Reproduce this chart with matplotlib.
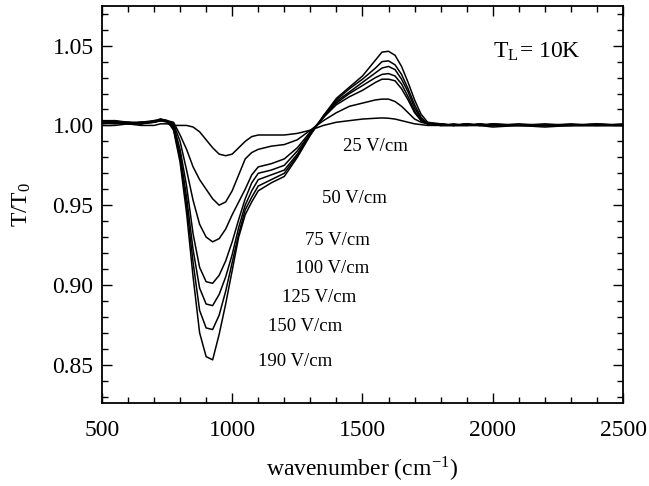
import matplotlib
matplotlib.use("Agg")
import matplotlib.pyplot as plt
from matplotlib.ticker import MultipleLocator

plt.rcParams['font.family'] = ['Liberation Serif', 'DejaVu Serif']
plt.rcParams['mathtext.fontset'] = 'stix'

wavenumber = [500, 550, 600, 650, 700, 725, 750, 775, 800, 825, 850, 875, 900, 925,
              950, 975, 1000, 1025, 1050, 1075, 1100, 1150, 1200, 1250, 1300, 1350,
              1400, 1450, 1500, 1550, 1575, 1600, 1625, 1650, 1675, 1700, 1725, 1750,
              1800, 1850, 1900, 1950, 2000, 2100, 2200, 2300, 2400, 2500]

t_190 = [1.003, 1.003, 1.002, 1.002, 1.003, 1.004, 1.003, 0.997, 0.977, 0.945, 0.905, 0.870,
         0.855, 0.853, 0.869, 0.888, 0.909, 0.930, 0.944, 0.952, 0.959, 0.964, 0.968, 0.980,
         0.994, 1.006, 1.017, 1.024, 1.031, 1.041, 1.046, 1.0465, 1.044, 1.037, 1.027, 1.016,
         1.007, 1.002, 1.001, 1.000, 1.001, 1.000, 1.001, 1.000, 1.001, 1.000, 1.001, 1.000]
t_150 = [1.002, 1.003, 1.001, 1.002, 1.002, 1.004, 1.003, 0.998, 0.979, 0.950, 0.914, 0.884,
         0.873, 0.872, 0.881, 0.896, 0.914, 0.932, 0.947, 0.955, 0.962, 0.966, 0.970, 0.981,
         0.994, 1.006, 1.016, 1.023, 1.029, 1.036, 1.040, 1.0405, 1.038, 1.032, 1.023, 1.013,
         1.005, 1.001, 1.001, 1.000, 1.000, 1.001, 1.000, 1.000, 1.000, 1.001, 1.000, 1.000]
t_125 = [1.003, 1.002, 1.002, 1.001, 1.003, 1.003, 1.002, 0.999, 0.982, 0.955, 0.922, 0.898,
         0.888, 0.887, 0.894, 0.905, 0.919, 0.936, 0.950, 0.959, 0.966, 0.969, 0.972, 0.982,
         0.995, 1.005, 1.015, 1.021, 1.027, 1.033, 1.036, 1.037, 1.035, 1.029, 1.021, 1.011,
         1.004, 1.001, 1.001, 1.000, 1.001, 1.000, 1.001, 1.000, 1.000, 1.000, 1.001, 1.000]
t_100 = [1.002, 1.002, 1.001, 1.002, 1.002, 1.003, 1.003, 1.000, 0.985, 0.962, 0.932, 0.911,
         0.902, 0.901, 0.906, 0.915, 0.927, 0.941, 0.954, 0.964, 0.970, 0.972, 0.975, 0.984,
         0.995, 1.005, 1.014, 1.020, 1.025, 1.030, 1.032, 1.0325, 1.031, 1.026, 1.018, 1.009,
         1.003, 1.001, 1.000, 1.001, 1.000, 1.000, 1.000, 1.001, 1.000, 1.000, 1.000, 1.001]
t_75 = [1.001, 1.002, 1.001, 1.001, 1.002, 1.003, 1.003, 1.001, 0.990, 0.972, 0.953, 0.938,
        0.930, 0.927, 0.929, 0.935, 0.944, 0.952, 0.960, 0.969, 0.974, 0.976, 0.979, 0.986,
        0.996, 1.005, 1.013, 1.018, 1.022, 1.027, 1.029, 1.029, 1.028, 1.023, 1.016, 1.008,
        1.003, 1.001, 1.000, 1.000, 1.001, 1.000, 0.999, 1.000, 1.000, 1.000, 1.000, 1.000]
t_50 = [1.002, 1.001, 1.002, 1.001, 1.002, 1.003, 1.003, 1.002, 0.994, 0.985, 0.974, 0.966,
        0.960, 0.954, 0.950, 0.952, 0.959, 0.969, 0.979, 0.983, 0.985, 0.987, 0.988, 0.991,
        0.997, 1.003, 1.008, 1.012, 1.014, 1.016, 1.0165, 1.0165, 1.015, 1.012, 1.008, 1.004,
        1.002, 1.001, 1.000, 1.000, 1.000, 1.001, 1.000, 1.000, 0.999, 1.000, 1.000, 1.000]
t_25 = [1.000, 1.000, 1.001, 1.000, 1.000, 1.001, 1.001, 1.000, 1.000, 1.000, 0.999, 0.996,
        0.991, 0.986, 0.982, 0.981, 0.982, 0.986, 0.990, 0.993, 0.994, 0.994, 0.994, 0.995,
        0.997, 1.000, 1.002, 1.003, 1.004, 1.0045, 1.0047, 1.0045, 1.004, 1.003, 1.002, 1.001,
        1.0005, 1.000, 1.000, 1.000, 1.000, 1.000, 1.000, 1.000, 1.000, 1.000, 1.000, 1.000]

series = [t_25, t_50, t_75, t_100, t_125, t_150, t_190]
labels = ["25 V/cm", "50 V/cm", "75 V/cm", "100 V/cm", "125 V/cm", "150 V/cm", "190 V/cm"]
label_x = [1427, 1346, 1281, 1242, 1192, 1138, 1100]
label_y = [0.9867, 0.954, 0.928, 0.910, 0.892, 0.874, 0.852]

fig = plt.figure(figsize=(6.49, 4.86), dpi=100)
ax = fig.add_axes([0.157, 0.171, 0.803, 0.817])

for s in series:
    ax.plot(wavenumber, s, color='black', lw=1.1)

for lab, lx, ly in zip(labels, label_x, label_y):
    ax.text(lx, ly, lab, fontsize=13.5, va='center', ha='left')

ax.text(2000, 1.046, r'T$_\mathregular{L}$= 10K', fontsize=17, va='center', ha='left')

ax.set_xlim(500, 2500)
ax.set_ylim(0.826, 1.075)
ax.xaxis.set_major_locator(MultipleLocator(500))
ax.xaxis.set_minor_locator(MultipleLocator(100))
ax.yaxis.set_major_locator(MultipleLocator(0.05))
ax.yaxis.set_minor_locator(MultipleLocator(0.01))
ax.yaxis.set_major_formatter(plt.FormatStrFormatter('%.2f'))
ax.tick_params(which='both', direction='in', top=True, right=True, labelsize=17)
ax.tick_params(which='major', length=7, width=1)
ax.tick_params(which='minor', length=4, width=1)
ax.tick_params(axis='x', pad=12)
ax.tick_params(axis='y', pad=6)
for sp in ax.spines.values():
    sp.set_linewidth(1.3)

ax.set_xlabel(r'wavenumber (cm$^\mathregular{-1}$)', fontsize=17, labelpad=10)
ax.set_ylabel(r'T/T$_\mathregular{0}$', fontsize=17, labelpad=14)

fig.savefig('out.png', dpi=100)
